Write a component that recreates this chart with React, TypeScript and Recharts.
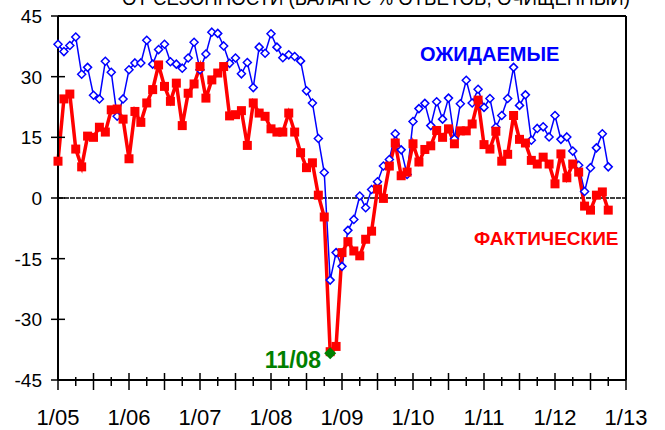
import React from 'react';
import { ComposedChart, Line, XAxis, YAxis, ReferenceLine, ReferenceDot } from 'recharts';

// monthly, jan 2005 .. oct 2012
const expected = [
  38.0, 36.2, 37.7, 39.8, 30.6, 32.3, 25.4, 24.5, 33.8, 31.1, 20.2, 24.5,
  31.7, 33.4, 33.4, 39.0, 33.1, 36.7, 38.0, 33.7, 33.1, 32.1, 34.6, 38.5,
  31.7, 35.6, 41.0, 40.7, 37.6, 33.3, 34.6, 30.7, 33.5, 27.3, 37.3, 35.8,
  40.6, 37.3, 34.7, 35.4, 35.0, 33.9, 26.5, 23.5, 14.7, 6.3, -20.3, -13.5,
  -16.9, -8.0, -5.3, 0.5, -2.4, 2.1, 4.0, 7.9, 9.5, 15.9, 11.9, 5.8,
  18.9, 22.1, 23.4, 17.9, 23.8, 19.5, 24.7, 14.6, 23.3, 29.1, 23.5, 26.9,
  22.4, 24.6, 17.5, 20.4, 24.6, 32.3, 22.9, 25.5, 14.3, 17.2, 17.6, 15.1,
  20.4, 14.5, 15.1, 11.6, 8.1, 1.6, 7.5, 12.4, 15.9, 7.7,
];

const actual = [
  9.1, 24.5, 25.7, 12.1, 7.7, 15.3, 15.0, 17.5, 16.3, 21.8, 22.0, 19.5,
  9.7, 21.4, 18.7, 23.5, 26.8, 32.9, 27.6, 23.9, 28.4, 17.9, 25.9, 28.2,
  32.5, 24.7, 29.2, 30.9, 32.5, 20.3, 20.6, 21.6, 13.0, 23.5, 21.0, 20.2,
  17.1, 16.3, 16.3, 21.0, 16.3, 11.2, 7.5, 8.7, 0.7, -4.7, -38.0, -36.7,
  -13.5, -10.8, -13.1, -14.3, -10.2, -8.2, 2.2, -0.1, 7.9, 13.6, 5.5, 6.4,
  13.4, 8.9, 12.0, 12.9, 16.7, 15.0, 17.1, 13.4, 16.6, 16.6, 18.3, 24.2,
  13.2, 12.1, 16.5, 9.1, 10.8, 20.4, 14.5, 13.6, 9.3, 8.4, 10.1, 8.4,
  3.5, 10.9, 5.0, 8.4, 6.4, -2.0, -3.0, 0.7, 1.5, -3.0,
];

const yearLabels = ['1/05', '1/06', '1/07', '1/08', '1/09', '1/10', '1/11', '1/12', '1/13'];
const yTicks = [-45, -30, -15, 0, 15, 30, 45];
const monthTicks = Array.from({ length: 33 }, (_, i) => i * 3);

const lowMonth = 46;
const lowLabel = '11/08';
const lowValue = -38.4;

const data = expected.map((v, i) => ({ m: i, expected: v, actual: actual[i] }));

const FONT = '"Liberation Sans", Arial, sans-serif';

const XTick = (props: any) => {
  const { x, y, payload } = props;
  const m = payload.value;
  const major = m % 6 === 0;
  const label = m % 12 === 0 ? yearLabels[m / 12] : '';
  return (
    <g>
      <line x1={x} x2={x} y1={y - (major ? 7 : 3)} y2={y + (major ? 10 : 6)} stroke="#000" strokeWidth={1.5} />
      {label && (
        <text x={x} y={y + 45} textAnchor="middle" fontSize={22} fontFamily={FONT} fill="#000">
          {label}
        </text>
      )}
    </g>
  );
};

const YTick = (props: any) => {
  const { x, y, payload } = props;
  return (
    <g>
      <line x1={x - 7} x2={x + 7} y1={y} y2={y} stroke="#000" strokeWidth={1.5} />
      <text x={x - 16} y={y + 7} textAnchor="end" fontSize={19} fontFamily={FONT} fill="#000">
        {payload.value}
      </text>
    </g>
  );
};

const Diamond = (props: any) => {
  const { cx, cy, index } = props;
  if (cx == null || cy == null) return <g key={index} />;
  const r = 4;
  return (
    <path
      key={index}
      d={`M${cx},${cy - r}L${cx + r},${cy}L${cx},${cy + r}L${cx - r},${cy}Z`}
      fill="#fff"
      stroke="#0000ff"
      strokeWidth={1.5}
    />
  );
};

const Square = (props: any) => {
  const { cx, cy, index } = props;
  if (cx == null || cy == null) return <g key={index} />;
  return <rect key={index} x={cx - 4.5} y={cy - 4.5} width={9} height={9} fill="#ff0000" />;
};

const LowMark = (props: any) => {
  const { cx, cy } = props;
  const r = 6;
  return (
    <g>
      <path d={`M${cx},${cy - r}L${cx + r},${cy}L${cx},${cy + r}L${cx - r},${cy}Z`} fill="#008000" />
      <text x={cx - 9} y={cy + 15} textAnchor="end" fontSize={23} fontWeight="bold" fontFamily={FONT} fill="#008000">
        {lowLabel}
      </text>
    </g>
  );
};

export default function App() {
  return (
    <div style={{ position: 'absolute', left: 0, top: 0, width: 665, height: 430, background: '#fff', fontFamily: FONT }}>
      <ComposedChart width={665} height={430} data={data} margin={{ top: 16, right: 39, bottom: 0, left: 0 }}>
        <XAxis
          dataKey="m"
          type="number"
          domain={[0, 96]}
          ticks={monthTicks}
          interval={0}
          tickSize={0}
          tickMargin={0}
          height={50}
          axisLine={{ stroke: '#000', strokeWidth: 2 }}
          tickLine={false}
          tick={<XTick />}
        />
        <YAxis
          type="number"
          domain={[-45, 45]}
          ticks={yTicks}
          interval={0}
          width={58}
          tickSize={0}
          tickMargin={0}
          axisLine={{ stroke: '#000', strokeWidth: 2 }}
          tickLine={false}
          tick={<YTick />}
        />
        <ReferenceLine y={45} stroke="#000" strokeWidth={2} />
        <ReferenceLine x={96} stroke="#000" strokeWidth={2} />
        <ReferenceLine y={0} stroke="#000" strokeWidth={1.5} strokeDasharray="5 1" />
        <Line
          type="linear"
          dataKey="expected"
          stroke="#0000ff"
          strokeWidth={1.5}
          dot={Diamond}
          activeDot={false}
          isAnimationActive={false}
        />
        <Line
          type="linear"
          dataKey="actual"
          stroke="#ff0000"
          strokeWidth={3.5}
          dot={Square}
          activeDot={false}
          isAnimationActive={false}
        />
        <ReferenceDot x={lowMonth} y={lowValue} r={6} shape={LowMark} />
      </ComposedChart>
      <svg width={665} height={430} style={{ position: 'absolute', left: 0, top: 0, pointerEvents: 'none' }}>
        <text x={122} y={5} fontSize={20} fontFamily={FONT} fill="#000" textLength={508} lengthAdjust="spacingAndGlyphs">
          ОТ СЕЗОННОСТИ (БАЛАНС % ОТВЕТОВ, ОЧИЩЕННЫЙ)
        </text>
        <text x={420} y={61} fontSize={20} fontWeight="bold" fontFamily={FONT} fill="#0000ff">
          ОЖИДАЕМЫЕ
        </text>
        <text x={474} y={245} fontSize={19} fontWeight="bold" fontFamily={FONT} fill="#ff0000">
          ФАКТИЧЕСКИЕ
        </text>
      </svg>
    </div>
  );
}
